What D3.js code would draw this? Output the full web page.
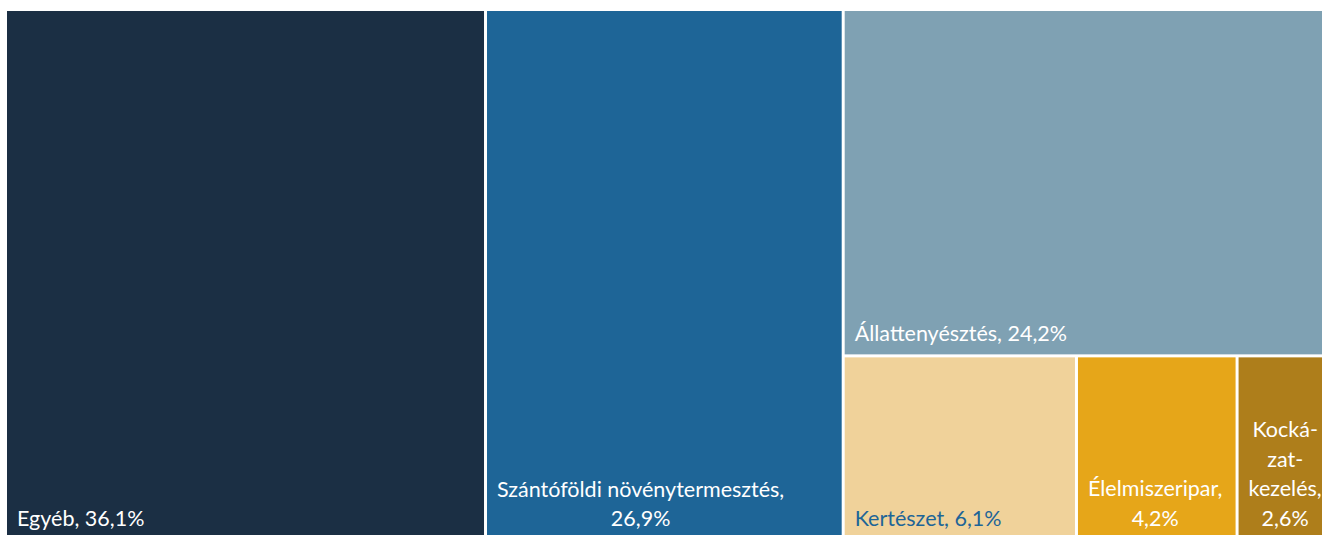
<!DOCTYPE html>
<html>
<head>
<meta charset="utf-8">
<script src="https://cdn.jsdelivr.net/npm/d3@7"></script>
<style>
    html, body { margin: 0; padding: 0; background: #fff; overflow: hidden; }
    #chart-area { width: 1322px; height: 535px; }
    .leaf-label { font-family: Lato, "Noto Sans", sans-serif; font-size: 21.5px; }
</style>
</head>
<body>
<div id="chart-area"></div>
<script>
// share of each sector, %
const categories = ["Egyéb", "Szántóföldi növénytermesztés", "Állattenyésztés", "Kertészet", "Élelmiszeripar", "Kockázatkezelés"];
const values = [36.1, 26.9, 24.2, 6.1, 4.2, 2.6];
// label text as shown, with line breaks
const labels = [
    "Egyéb, 36,1%",
    "Szántóföldi növénytermesztés,\n26,9%",
    "Állattenyésztés, 24,2%",
    "Kertészet, 6,1%",
    "Élelmiszeripar,\n4,2%",
    "Kocká-\nzat-\nkezelés,\n2,6%"
];
const colors = ["#1b2f44", "#1e6597", "#7fa1b3", "#f0d29a", "#e6a619", "#ae7e1b"];
const textColors = ["#fff", "#fff", "#fff", "#1e6597", "#fff", "#fff"];

const margin = { left: 7, top: 11 };
const width = 1328, height = 528;

function leaf(i) {
    return { name: categories[i], value: values[i], label: labels[i], color: colors[i], text: textColors[i] };
}

// nested so slice/dice gives the same layout as the original
const tree = {
    name: "root",
    children: [
        leaf(0),
        leaf(1),
        { name: "rest", children: [
            leaf(2),
            { name: "small", children: [leaf(3), leaf(4), leaf(5)] }
        ] }
    ]
};

const root = d3.hierarchy(tree).sum(d => d.value || 0);

d3.treemap()
    .tile(d3.treemapSliceDice)
    .size([width, height])
    .paddingInner(3)
    .round(false)(root);

const svg = d3.select("#chart-area")
    .append("svg")
    .attr("width", 1322)
    .attr("height", 535);

const g = svg.append("g")
    .attr("transform", `translate(${margin.left}, ${margin.top})`);

const cells = g.selectAll(".cell")
    .data(root.leaves())
    .enter().append("g")
    .attr("class", "cell")
    .attr("transform", d => `translate(${d.x0},${d.y0})`);

cells.append("rect")
    .attr("width", d => d.x1 - d.x0)
    .attr("height", d => d.y1 - d.y0)
    .attr("fill", d => d.data.color);

const lineH = 29.5;
const padL = 10, padB = 13;

cells.each(function (d) {
    const cell = d3.select(this);
    const lines = d.data.label.split("\n");
    const h = d.y1 - d.y0;
    const txt = cell.append("text")
        .attr("class", "leaf-label")
        .attr("fill", d.data.text);
    const spans = txt.selectAll("tspan")
        .data(lines)
        .enter().append("tspan")
        .attr("y", (l, i) => h - padB - (lines.length - 1 - i) * lineH)
        .text(l => l);
    // lines centred against each other, block starts at the left inset
    const widths = [];
    spans.each(function () { widths.push(this.getComputedTextLength()); });
    const blockW = d3.max(widths);
    spans.attr("x", (l, i) => padL + (blockW - widths[i]) / 2);
});
</script>
</body>
</html>
